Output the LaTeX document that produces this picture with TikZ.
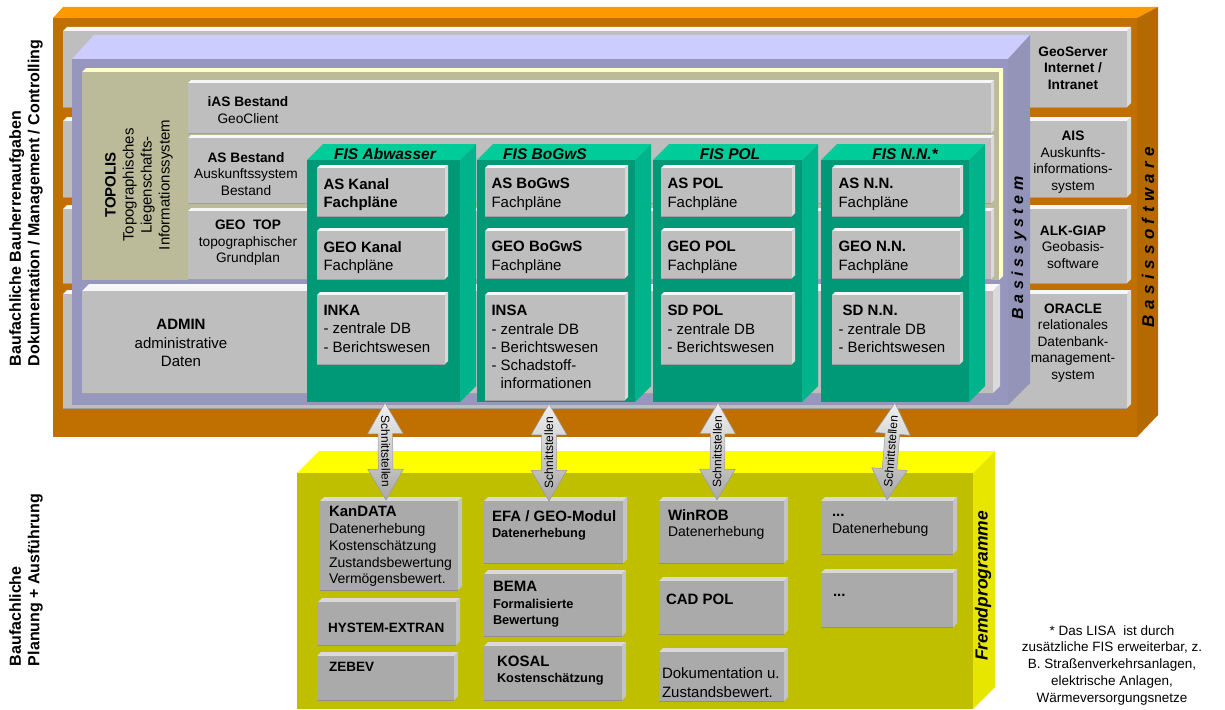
\documentclass[tikz,border=0pt]{standalone}
\usepackage{fontspec}
\setmainfont{Liberation Sans}
\usetikzlibrary{fit,shapes.arrows,calc}
\definecolor{orF}{HTML}{C07000}
\definecolor{orT}{HTML}{FF9900}
\definecolor{orS}{HTML}{B56A00}
\definecolor{grF}{HTML}{BEBEBE}
\definecolor{grT}{HTML}{F7F7F7}
\definecolor{grS}{HTML}{DADADA}
\definecolor{grE}{HTML}{A0A0A0}
\definecolor{puF}{HTML}{9696BE}
\definecolor{puT}{HTML}{CCCCFF}
\definecolor{puS}{HTML}{9494B9}
\definecolor{khF}{HTML}{BBBB99}
\definecolor{khT}{HTML}{FFFFCC}
\definecolor{gnF}{HTML}{009977}
\definecolor{gnT}{HTML}{00CC99}
\definecolor{gnS}{HTML}{00B38A}
\definecolor{ylF}{HTML}{BFBF00}
\definecolor{ylT}{HTML}{FFFF00}
\definecolor{ylS}{HTML}{E6E600}
\definecolor{ybF}{HTML}{AAAAAA}
\definecolor{ybT}{HTML}{D9D9D9}
\definecolor{ybS}{HTML}{C4C4C4}
\definecolor{ybE}{HTML}{8E8E8E}
\definecolor{arT}{HTML}{F0F0F0}
\definecolor{arM}{HTML}{CDCDCD}
\definecolor{arB}{HTML}{A8A8A8}
\definecolor{arE}{HTML}{9A9A9A}
\newcommand\lsA{\kern5.4pt}
\newcommand\lsB{\kern4.5pt}
% bevelled box: name, x1, y1, x2, y2, depth, style prefix
\newcommand\bevbox[7]{%
  \fill[#7top] (#2,#3+#6) -- (#2+#6,#3) -- (#4,#3) -- (#4-#6,#3+#6) -- cycle;
  \fill[#7side] (#4-#6,#3+#6) -- (#4,#3) -- (#4,#5-#6) -- (#4-#6,#5) -- cycle;
  \node[fit={(#2,#3+#6) (#4-#6,#5)}, inner sep=0pt, #7front] (#1) {};
  \draw[#7edge] (#1.south west) -- (#1.south east);
}
% cube: name, x1, y1, x2, y2 (front face), depth, style prefix
\newcommand\mkcube[7]{%
  \fill[#7top] (#2,#3) -- (#2+#6,#3-#6) -- (#4+#6,#3-#6) -- (#4,#3) -- cycle;
  \fill[#7side] (#4,#3) -- (#4+#6,#3-#6) -- (#4+#6,#5-#6) -- (#4,#5) -- cycle;
  \node[fit={(#2,#3) (#4,#5)}, inner sep=0pt, #7front] (#1) {};
}
\begin{document}
\begin{tikzpicture}[x=1pt,y=-1pt,
  grtop/.style={fill=grT}, grside/.style={fill=grS}, grfront/.style={fill=grF},
  gredge/.style={draw=grE, line width=1.2pt},
  ybtop/.style={fill=ybT}, ybside/.style={fill=ybS}, ybfront/.style={fill=ybF},
  ybedge/.style={draw=ybE, line width=1.2pt},
  gntop/.style={fill=gnT}, gnside/.style={fill=gnS}, gnfront/.style={fill=gnF},
  yltop/.style={fill=ylT}, ylside/.style={fill=ylS}, ylfront/.style={fill=ylF},
  tA/.style={font=\fontsize{15}{18.3}\selectfont, inner sep=0pt, align=left, anchor=north west},
  tY/.style={font=\fontsize{14}{16.8}\selectfont, inner sep=0pt, align=left, anchor=north west},
  tC/.style={font=\fontsize{13.7}{16.5}\selectfont, inner sep=0pt, align=center},
  fis/.style={font=\fontsize{15.5}{18}\selectfont\bfseries\itshape, inner sep=0pt, anchor=base},
  lab/.style={font=\fontsize{16}{18.5}\selectfont\bfseries, inner sep=0pt, align=left, rotate=90},
  vlab/.style={inner sep=0pt, rotate=90},
  schnitt/.style={double arrow, double arrow head extend=10.5pt, double arrow tip angle=60,
    minimum height=97pt, inner xsep=0pt, inner ysep=2.5pt, text height=8.6pt, text depth=0.5pt,
    font=\fontsize{12}{12}\selectfont, top color=arT, middle color=arM, bottom color=arB,
    draw=arE, line width=0.5pt}
]
\useasboundingbox (0,0) rectangle (1225,709);
\fill[white] (0,0) rectangle (1225,709);

% ---------------- Basissoftware (orange) ----------------
\fill[orT] (53,18) -- (63,7) -- (1158,7) -- (1137,18) -- cycle;
\fill[orS] (1137,18) -- (1158,7) -- (1158,415) -- (1137,437) -- cycle;
\node[fit={(53,18) (1137,437)}, inner sep=0pt, fill=orF] (bsw) {};

% big gray rows
\bevbox{r1}{63}{27}{1131}{107}{4}{gr}
\bevbox{r2}{63}{117}{1131}{197}{4}{gr}
\bevbox{r3}{63}{205}{1131}{283}{4}{gr}
\bevbox{r4}{63}{290}{1131}{408}{4}{gr}

% ---------------- Basissystem (purple) ----------------
\fill[puT] (72,59) -- (94,35) -- (1030,35) -- (1008,59) -- cycle;
\fill[puS] (1008,59) -- (1030,35) -- (1030,383) -- (1008,405) -- cycle;
\node[fit={(72,59) (1008,405)}, inner sep=0pt, fill=puF] (bsys) {};

% ---------------- TOPOLIS (khaki) ----------------
\fill[khT] (82,72) -- (86,68) -- (1003,68) -- (999,72) -- cycle;
\fill[khT] (999,72) -- (1003,68) -- (1003,276) -- (999,280) -- cycle;
\node[fit={(82,72) (999,280)}, inner sep=0pt, fill=khF] (topo) {};

\bevbox{ias}{188}{80}{994}{133}{3}{gr}
\bevbox{asb}{188}{135}{994}{203}{3}{gr}
\bevbox{geot}{188}{208}{994}{279}{3}{gr}
\bevbox{admin}{82}{284}{1000}{393}{7}{gr}

% ---------------- FIS columns (green) ----------------
\mkcube{fis1}{307}{160}{460}{402}{16}{gn}
\mkcube{fis2}{477}{160}{635}{402}{16}{gn}
\mkcube{fis3}{653}{160}{802}{402}{16}{gn}
\mkcube{fis4}{821}{160}{969}{402}{16}{gn}

\bevbox{as1}{317}{165}{448}{216}{3}{gr}
\bevbox{geo1}{317}{228}{448}{279}{3}{gr}
\bevbox{in1}{317}{292}{448}{364}{3}{gr}
\bevbox{as2}{485}{165}{628}{216}{3}{gr}
\bevbox{geo2}{485}{228}{628}{278}{3}{gr}
\bevbox{in2}{485}{292}{628}{400}{3}{gr}
\bevbox{as3}{661}{165}{795}{216}{3}{gr}
\bevbox{geo3}{661}{228}{795}{278}{3}{gr}
\bevbox{in3}{661}{292}{795}{364}{3}{gr}
\bevbox{as4}{832}{165}{963}{216}{3}{gr}
\bevbox{geo4}{832}{228}{963}{278}{3}{gr}
\bevbox{in4}{832}{292}{963}{364}{3}{gr}

\node[fis] (f1) at (385,159) {FIS Abwasser};
\node[fis] (f2) at (545,159) {FIS BoGwS};
\node[fis] (f3) at (730,159) {FIS POL};
\node[fis] (f4) at (905,159) {FIS N.N.*};

\node[tA] (tas1) at ([shift={(6.5,10.3)}]as1.north west) {\textbf{AS Kanal}\\\textbf{Fachpläne}};
\node[tA] (tgeo1) at ([shift={(6.5,10.3)}]geo1.north west) {\textbf{GEO Kanal}\\Fachpläne};
\node[tA] (tin1) at ([shift={(6.5,10.3)}]in1.north west) {\textbf{INKA}\\- zentrale DB\\- Berichtswesen};
\node[tA] (tas2) at ([shift={(6.5,10.3)}]as2.north west) {\textbf{AS BoGwS}\\Fachpläne};
\node[tA] (tgeo2) at ([shift={(6.5,10.3)}]geo2.north west) {\textbf{GEO BoGwS}\\Fachpläne};
\node[tA] (tin2) at ([shift={(6.5,10.3)}]in2.north west) {\textbf{INSA}\\- zentrale DB\\- Berichtswesen\\- Schadstoff-\\\phantom{- }informationen};
\node[tA] (tas3) at ([shift={(6.5,10.3)}]as3.north west) {\textbf{AS POL}\\Fachpläne};
\node[tA] (tgeo3) at ([shift={(6.5,10.3)}]geo3.north west) {\textbf{GEO POL}\\Fachpläne};
\node[tA] (tin3) at ([shift={(6.5,10.3)}]in3.north west) {\textbf{SD POL}\\- zentrale DB\\- Berichtswesen};
\node[tA] (tas4) at ([shift={(6.5,10.3)}]as4.north west) {\textbf{AS N.N.}\\Fachpläne};
\node[tA] (tgeo4) at ([shift={(6.5,10.3)}]geo4.north west) {\textbf{GEO N.N.}\\Fachpläne};
\node[tA] (tin4) at ([shift={(6.5,10.3)}]in4.north west) {\textbf{\ SD N.N.}\\- zentrale DB\\- Berichtswesen};

% khaki area texts
\node[tC] (tias) at (248,110) {\textbf{iAS Bestand}\\GeoClient};
\node[tC] (tasb) at (246,174) {\textbf{AS Bestand}\\Auskunftssystem\\Bestand};
\node[tC] (tgeot) at (248,243) {\textbf{GEO~~TOP}\\topographischer\\Grundplan};
\node[tC, font=\fontsize{15}{18.5}\selectfont] (tadmin) at (181,343) {\textbf{ADMIN}\\administrative\\Daten};
\node[tC, font=\fontsize{15}{18}\selectfont, rotate=90] (ttopo) at (139,185) {\textbf{TOPOLIS}\\Topographisches\\Liegenschafts-\\Informationssystem};

% right column texts
\node[tC] (tgs) at (1073,68) {\textbf{GeoServer}\\\textbf{Internet /}\\\textbf{Intranet}};
\node[tC] (tais) at (1073,162) {\textbf{AIS}\\Auskunfts-\\informations-\\system};
\node[tC] (talk) at (1073,247) {\textbf{ALK-GIAP}\\Geobasis-\\software};
\node[tC] (tora) at (1073,343) {\textbf{ORACLE}\\relationales\\Datenbank-\\management-\\system};

% vertical labels in side faces
\node[vlab, font=\fontsize{16}{16}\selectfont\bfseries\itshape] (tbsys) at (1019,248)
  {B\lsB a\lsB s\lsB i\lsB s\lsB s\lsB y\lsB s\lsB t\lsB e\lsB m};
\node[vlab, font=\fontsize{17}{17}\selectfont\bfseries\itshape] (tbsw) at (1148,237)
  {B\lsA a\lsA s\lsA i\lsA s\lsA s\lsA o\lsA f\lsA t\lsA w\lsA a\lsA r\lsA e};

% ---------------- Fremdprogramme (yellow) ----------------
\mkcube{fremd}{297}{473}{973}{709}{22}{yl}

\bevbox{kd}{320}{497}{462}{590}{4}{yb}
\bevbox{hy}{318}{598}{460}{645}{4}{yb}
\bevbox{ze}{317}{652}{458}{700}{4}{yb}
\bevbox{efa}{484}{497}{627}{563}{4}{yb}
\bevbox{bema}{484}{570}{626}{636}{4}{yb}
\bevbox{kos}{484}{642}{626}{700}{4}{yb}
\bevbox{win}{659}{497}{788}{563}{4}{yb}
\bevbox{cad}{659}{577}{788}{634}{4}{yb}
\bevbox{dok}{659}{648}{788}{701}{4}{yb}
\bevbox{dd}{821}{497}{957}{554}{4}{yb}
\bevbox{dots}{821}{569}{957}{627}{4}{yb}

\node[tY] (tkd) at ([shift={(9,5.3)}]kd.north west) {{\fontsize{15}{17}\selectfont\bfseries KanDATA}\\Datenerhebung\\Kostenschätzung\\Zustandsbewertung\\Vermögensbewert.};
\node[tY, font=\fontsize{12.8}{16}\selectfont\bfseries] (tefa) at ([shift={(8,9.3)}]efa.north west) {{\fontsize{15}{17}\selectfont EFA / GEO-Modul}\\Datenerhebung};
\node[tY, font=\fontsize{12.8}{16.5}\selectfont\bfseries] (tbema) at ([shift={(9,7.3)}]bema.north west) {{\fontsize{15}{17}\selectfont BEMA}\\Formalisierte\\Bewertung};
\node[tY, font=\fontsize{12.8}{16}\selectfont\bfseries] (tkos) at ([shift={(13,10.3)}]kos.north west) {{\fontsize{15}{17}\selectfont KOSAL}\\Kostenschätzung};
\node[tY, font=\fontsize{13.5}{16}\selectfont\bfseries] (thy) at ([shift={(10,21.3)}]hy.north west) {HYSTEM-EXTRAN};
\node[tY, font=\fontsize{13.5}{16}\selectfont\bfseries] (tze) at ([shift={(12,6.3)}]ze.north west) {ZEBEV};
\node[tY] (twin) at ([shift={(9,8.3)}]win.north west) {{\fontsize{15}{17}\selectfont\bfseries WinROB}\\Datenerhebung};
\node[tY, font=\fontsize{15}{17}\selectfont\bfseries] (tcad) at ([shift={(7,13.3)}]cad.north west) {CAD POL};
\node[tY, font=\fontsize{15}{19.5}\selectfont] (tdok) at ([shift={(3,15.3)}]dok.north west) {Dokumentation u.\\Zustandsbewert.};
\node[tY] (tdd) at ([shift={(11,5.3)}]dd.north west) {{\fontsize{15}{17}\selectfont\bfseries\vphantom{A}...}\\Datenerhebung};
\node[anchor=base west, inner sep=0pt, font=\fontsize{15}{17}\selectfont\bfseries] (tdots) at ([shift={(12,24)}]dots.north west) {...};

\node[vlab, font=\fontsize{17.5}{17.5}\selectfont\bfseries\itshape] (tfremd) at (983,586) {Fremdprogramme};

% ---------------- Schnittstellen ----------------
\coordinate (s1t) at (385,403); \coordinate (s1b) at (386,500);
\coordinate (s2t) at (549,403); \coordinate (s2b) at (549,502);
\coordinate (s3t) at (718,403); \coordinate (s3b) at (717,500);
\coordinate (s4t) at (895,403); \coordinate (s4b) at (887,500);
\path (s1b) -- (s1t) node[schnitt, midway, sloped] (sch1) {Schnittstellen};
\path (s2b) -- (s2t) node[schnitt, midway, sloped] (sch2) {Schnittstellen};
\path (s3b) -- (s3t) node[schnitt, midway, sloped] (sch3) {Schnittstellen};
\path (s4b) -- (s4t) node[schnitt, midway, sloped] (sch4) {Schnittstellen};

% ---------------- left labels ----------------
\node[lab] (labA) at (26,203) {Baufachliche Bauherrenaufgaben\\Dokumentation / Management / Controlling};
\node[lab] (labB) at (26,580) {Baufachliche\\Planung + Ausführung};

% footnote
\node[align=center, inner sep=0pt, font=\fontsize{13.5}{16.75}\selectfont] (note) at (1112,665)
  {* Das LISA~ ist durch\\zusätzliche FIS erweiterbar, z.\\B. Straßenverkehrsanlagen,\\elektrische Anlagen,\\Wärmeversorgungsnetze};
\end{tikzpicture}
\end{document}
